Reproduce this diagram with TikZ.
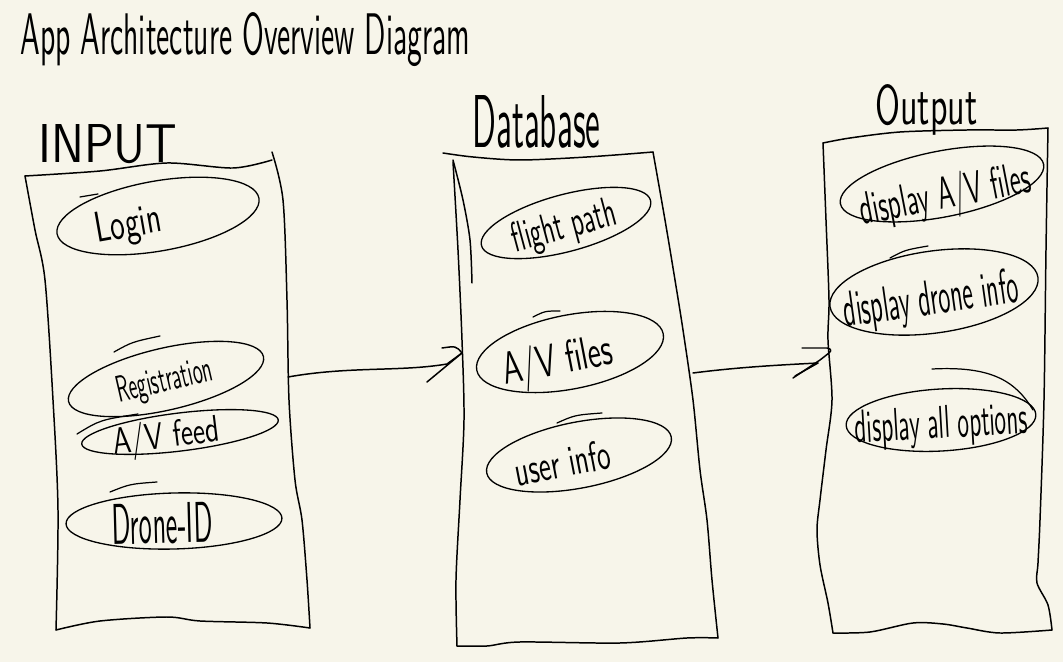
\documentclass[tikz,border=0pt]{standalone}
\usetikzlibrary{shapes.geometric}
\definecolor{paper}{RGB}{247,245,234}
\newlength\px
\setlength\px{0.02cm}
\newcommand\hw[3]{\resizebox{#1\px}{#2\px}{\sffamily #3}}
\newcommand\etext[5]{\makebox[0pt]{\hspace*{#1\px}\hspace*{#1\px}\raisebox{-#2\px}[0pt][0pt]{\hw{#3}{#4}{#5}}}}
\tikzset{
  box/.style={line width=0.85pt, black},
  ell/.style={ellipse, draw, line width=0.75pt, inner sep=0pt},
  hand/.style={line width=0.7pt, black},
  lbl/.style={inner sep=0pt, anchor=base west},
}
\begin{document}
\begin{tikzpicture}[x=0.02cm, y=-0.02cm, line join=round, line cap=round]
\fill[paper] (0,0) rectangle (1063,662);
\useasboundingbox (0,0) rectangle (1063,662);

% titles
\node[lbl] (title) at (20,55) {\hw{450}{42}{App Architecture Overview Diagram}};
\node[lbl] (tin) at (38,163) {\hw{139}{38}{INPUT}};
\node[lbl] (tdb) at (472,148) {\hw{128}{52}{Database}};
\node[lbl] (tout) at (875,125) {\hw{102}{40}{Output}};

% INPUT box
\draw[box] plot[smooth, tension=0.5] coordinates {(25,176) (100,171) (167,163) (233,168) (272,160)};
\draw[box] plot[smooth, tension=0.5] coordinates {(272,152) (283,200) (287,300) (289,400) (295,480) (302,520) (307,580) (310,628)};
\draw[box] plot[smooth, tension=0.5] coordinates {(56,630) (100,621) (167,617) (200,621) (267,623) (310,628)};
\draw[box] plot[smooth, tension=0.5] coordinates {(25,176) (35,230) (45,280) (53,400) (58,510) (56,630)};

% Database box
\draw[box] plot[smooth, tension=0.5] coordinates {(443,153) (473,157) (520,160) (587,157) (653,152)};
\draw[box] plot[smooth, tension=0.5] coordinates {(453,162) (458,250) (462,340) (464,420) (460,500) (456,580) (457,646)};
\draw[box] plot[smooth, tension=0.5] coordinates {(453,160) (463,200) (470,240) (472,283)};
\draw[box] plot[smooth, tension=0.5] coordinates {(457,646) (487,646) (520,642) (620,643) (687,638) (718,638)};
\draw[box] plot[smooth, tension=0.5] coordinates {(653,152) (665,220) (675,280) (683,330) (693,400) (700,470) (707,520) (712,580) (718,638)};

% Output box
\draw[box] plot[smooth, tension=0.5] coordinates {(823,143) (850,138) (900,132) (967,130) (1017,130) (1048,128)};
\draw[box] plot[smooth, tension=0.5] coordinates {(1048,128) (1046,250) (1044,400) (1040,520) (1038,563) (1037,583) (1048,605) (1052,630)};
\draw[box] plot[smooth, tension=0.5] coordinates {(833,633) (870,632) (913,623) (943,624) (967,628) (1000,633) (1052,630)};
\draw[box] plot[smooth, tension=0.5] coordinates {(823,143) (826,220) (829,300) (828,340) (832,400) (826,450) (820,500) (817,530) (820,565) (828,603) (833,633)};

% INPUT items
\node[ell, minimum width={205*\px}, minimum height={70*\px}, rotate=10] (login) at (158,216) {\etext{-31}{16}{67}{30}{Login}};
\node[ell, minimum width={200*\px}, minimum height={62*\px}, rotate=13] (reg) at (166,379) {\etext{-2}{12}{98}{26}{Registration}};
\node[ell, minimum width={198*\px}, minimum height={38*\px}, rotate=7] (avfeed) at (180,432) {\etext{-14}{14}{107}{28}{A/V feed}};
\node[ell, minimum width={216*\px}, minimum height={56*\px}, rotate=1.5] (drone) at (174,521) {\etext{-12}{22}{101}{40}{Drone-ID}};

% Database items
\node[ell, minimum width={175*\px}, minimum height={57*\px}, rotate=15] (flight) at (566,223) {\etext{-3}{15}{107}{30}{flight path}};
\node[ell, minimum width={190*\px}, minimum height={74*\px}, rotate=11] (avfiles) at (570,352) {\etext{-14}{20}{112}{34}{A/V files}};
\node[ell, minimum width={188*\px}, minimum height={66*\px}, rotate=11] (user) at (579,455) {\etext{-18}{19}{97}{30}{user info}};

% Output items
\node[ell, minimum width={207*\px}, minimum height={66*\px}, rotate=11] (dispav) at (942,184) {\etext{1}{25}{173}{34}{display A/V files}};
\node[ell, minimum width={210*\px}, minimum height={82*\px}, rotate=8] (dispdrone) at (934,292) {\etext{-4}{22}{176}{35}{display drone info}};
\node[ell, minimum width={190*\px}, minimum height={62*\px}, rotate=3.3] (dispall) at (941,420) {\etext{0}{18}{173}{32}{display all options}};

% overshoot strokes
\draw[hand] (80,197) -- (98,194);
\draw[hand] (114,352) .. controls (132,342) .. (160,336);
\draw[hand] (77,434) .. controls (100,420) .. (138,414);
\draw[hand] (110,492) .. controls (130,484) .. (157,482);
\draw[hand] (533,317) .. controls (545,311) .. (560,311);
\draw[hand] (557,423) .. controls (575,415) .. (602,413);
\draw[hand] (890,258) .. controls (905,250) .. (928,246);
\draw[hand] (932,369) .. controls (990,366) and (1015,380) .. (1033,410);

% arrows
\coordinate (a1s) at (288,377);
\coordinate (a1e) at (462,353);
\draw[box] (a1s) .. controls (350,366) and (400,372) .. (447,364) -- (a1e);
\draw[box] (427,382) -- (a1e);
\draw[box] (442,348) .. controls (456,346) .. (a1e);

\coordinate (a2s) at (693,373);
\coordinate (a2e) at (818,363);
\draw[box] (a2s) .. controls (740,367) and (780,365) .. (a2e);
\draw[box] (802,348) -- (827,348) .. controls (833,350) .. (820,360) -- (793,378);
\draw[box] (818,363) -- (795,376);
\end{tikzpicture}
\end{document}
